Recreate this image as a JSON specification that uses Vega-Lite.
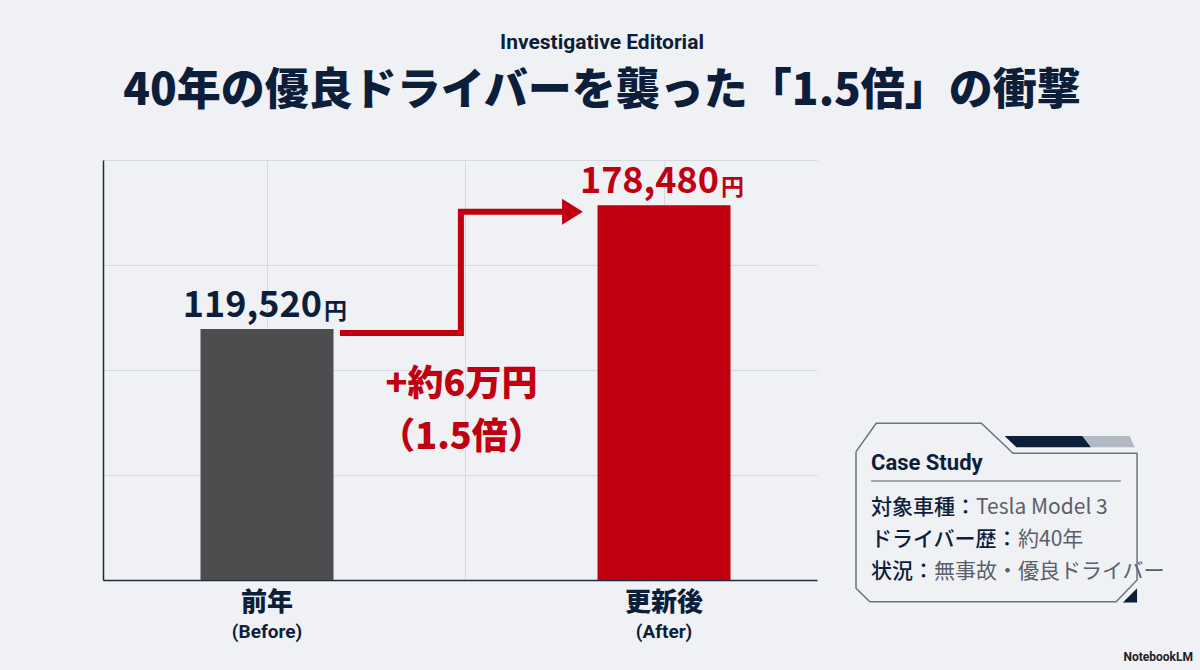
{
  "$schema": "https://vega.github.io/schema/vega-lite/v6.json",
  "description": "Insurance premium before and after renewal for a 40-year good driver",
  "background": "#eff1f5",
  "padding": {"left": 103, "top": 32, "right": 10, "bottom": 5},
  "title": {
    "text": "Investigative Editorial",
    "subtitle": "40年の優良ドライバーを襲った「1.5倍」の衝撃",
    "anchor": "middle",
    "dx": -46,
    "offset": 46,
    "font": "Roboto",
    "fontSize": 21,
    "fontWeight": "bold",
    "color": "#0d1e3a",
    "subtitleFont": "Noto Sans CJK JP",
    "subtitleFontSize": 44,
    "subtitleFontWeight": 900,
    "subtitleColor": "#0d1e3a",
    "subtitlePadding": 17
  },
  "spacing": 36,
  "hconcat": [
    {
      "width": 714,
      "height": 420,
      "layer": [
        {
          "data": {
            "values": [
              {"period": "前年", "en": "(Before)", "premium": 119520},
              {"period": "更新後", "en": "(After)", "premium": 178480}
            ]
          },
          "encoding": {
            "x": {
              "field": "period",
              "type": "nominal",
              "scale": {"domain": ["前年", "更新後"], "paddingInner": 0.665, "paddingOuter": 0.2317, "align": 0.53},
              "axis": null
            }
          },
          "layer": [
            {
              "mark": {"type": "bar"},
              "encoding": {
                "y": {
                  "field": "premium",
                  "type": "quantitative",
                  "title": null,
                  "scale": {"domain": [0, 200000], "nice": false},
                  "axis": {
                    "grid": true,
                    "values": [0, 50000, 100000, 150000, 200000],
                    "labels": false,
                    "ticks": false,
                    "title": null,
                    "domainColor": "#1d2a3f",
                    "domainWidth": 1.5,
                    "gridColor": "#d6d9df",
                    "gridWidth": 1
                  }
                },
                "color": {
                  "field": "period",
                  "type": "nominal",
                  "scale": {"domain": ["前年", "更新後"], "range": ["#4d4d4f", "#c00010"]},
                  "legend": null
                }
              }
            },
            {
              "mark": {"type": "text", "align": "right", "baseline": "alphabetic", "dx": 55, "dy": -12, "font": "Noto Sans CJK JP", "fontSize": 36, "fontWeight": "bold"},
              "encoding": {
                "y": {"field": "premium", "type": "quantitative", "title": null},
                "text": {"field": "premium", "type": "quantitative", "format": ","},
                "color": {"condition": {"test": "datum.period === '前年'", "value": "#0d1e3a"}, "value": "#c00010"}
              }
            },
            {
              "mark": {"type": "text", "align": "left", "baseline": "alphabetic", "dx": 57, "dy": -10, "font": "Noto Sans CJK JP", "fontSize": 23, "fontWeight": "bold", "text": "円"},
              "encoding": {
                "y": {"field": "premium", "type": "quantitative", "title": null},
                "color": {"condition": {"test": "datum.period === '前年'", "value": "#0d1e3a"}, "value": "#c00010"}
              }
            },
            {
              "mark": {"type": "text", "baseline": "middle", "dy": 23, "font": "Noto Sans CJK JP", "fontSize": 26, "fontWeight": 900, "color": "#0d1e3a"},
              "encoding": {
                "y": {"datum": 0, "type": "quantitative"},
                "text": {"field": "period"}
              }
            },
            {
              "mark": {"type": "text", "baseline": "middle", "dy": 52, "font": "Roboto", "fontSize": 19, "fontWeight": "bold", "color": "#0d1e3a"},
              "encoding": {
                "y": {"datum": 0, "type": "quantitative"},
                "text": {"field": "en"}
              }
            }
          ]
        },
        {
          "layer": [
            {
              "data": {
                "values": [
                  {"step": 1, "x": 0.368, "y": 117600},
                  {"step": 2, "x": 0.977, "y": 117600},
                  {"step": 3, "x": 0.977, "y": 175380},
                  {"step": 4, "x": 1.5, "y": 175380}
                ]
              },
              "mark": {"type": "line", "strokeWidth": 6, "color": "#c00010", "strokeJoin": "miter", "strokeCap": "butt"},
              "encoding": {
                "x": {
                  "field": "x",
                  "type": "quantitative",
                  "scale": {"domain": [-0.826, 2.771], "nice": false, "zero": false},
                  "axis": {
                    "grid": true,
                    "values": [0, 1, 2],
                    "labels": false,
                    "ticks": false,
                    "title": null,
                    "orient": "bottom",
                    "domainColor": "#1d2a3f",
                    "domainWidth": 1.5,
                    "gridColor": "#d6d9df",
                    "gridWidth": 1
                  }
                },
                "y": {"field": "y", "type": "quantitative", "title": null},
                "order": {"field": "step"}
              }
            },
            {
              "data": {"values": [{}]},
              "mark": {"type": "point", "shape": "M-0.8,-1L0.8,0L-0.8,1Z", "size": 676, "filled": true, "opacity": 1, "color": "#c00010"},
              "encoding": {
                "x": {"datum": 1.539, "type": "quantitative"},
                "y": {"datum": 175380, "type": "quantitative"}
              }
            },
            {
              "data": {"values": [{}]},
              "mark": {"type": "text", "text": "+約6万円", "baseline": "middle", "font": "Noto Sans CJK JP", "fontSize": 36, "fontWeight": 900, "color": "#c00010"},
              "encoding": {
                "x": {"datum": 0.98, "type": "quantitative"},
                "y": {"datum": 92857, "type": "quantitative"}
              }
            },
            {
              "data": {"values": [{}]},
              "mark": {"type": "text", "text": "（1.5倍）", "baseline": "middle", "font": "Noto Sans CJK JP", "fontSize": 36, "fontWeight": 900, "color": "#c00010"},
              "encoding": {
                "x": {"datum": 0.98, "type": "quantitative"},
                "y": {"datum": 67619, "type": "quantitative"}
              }
            }
          ]
        }
      ],
      "resolve": {"scale": {"x": "independent"}, "axis": {"x": "independent"}}
    },
    {
      "width": 337,
      "height": 505,
      "encoding": {
        "x": {"type": "quantitative", "scale": {"domain": [0, 100], "nice": false, "zero": false}, "axis": null},
        "y": {"type": "quantitative", "scale": {"domain": [-9.78, 6], "nice": false, "zero": false, "reverse": true}, "axis": null}
      },
      "layer": [
        {
          "data": {
            "values": [
              {"i": 1, "px": 0, "py": -0.666},
              {"i": 2, "px": 6.0, "py": -1.553},
              {"i": 3, "px": 37.2, "py": -1.553},
              {"i": 4, "px": 46.6, "py": -0.616},
              {"i": 5, "px": 83.4, "py": -0.616},
              {"i": 6, "px": 83.4, "py": 3.344},
              {"i": 7, "px": 77.2, "py": 4.022},
              {"i": 8, "px": 4.1, "py": 4.022},
              {"i": 9, "px": 0, "py": 3.603},
              {"i": 10, "px": 0, "py": -0.666}
            ]
          },
          "mark": {"type": "line", "strokeWidth": 1.5, "color": "#6b7383", "strokeJoin": "miter"},
          "encoding": {
            "x": {"field": "px", "type": "quantitative"},
            "y": {"field": "py", "type": "quantitative"},
            "order": {"field": "i"}
          }
        },
        {
          "data": {
            "values": [
              {"py": -1.156, "x1": 44.1, "x2": 67.2},
              {"py": -0.803, "x1": 47.6, "x2": 69.8}
            ]
          },
          "mark": {"type": "area", "orient": "horizontal", "color": "#0d1e3a", "opacity": 1},
          "encoding": {
            "y": {"field": "py", "type": "quantitative"},
            "x": {"field": "x1", "type": "quantitative"},
            "x2": {"field": "x2"}
          }
        },
        {
          "data": {
            "values": [
              {"py": -1.156, "x1": 67.2, "x2": 81.2},
              {"py": -0.803, "x1": 69.8, "x2": 82.7}
            ]
          },
          "mark": {"type": "area", "orient": "horizontal", "color": "#b3b9c3", "opacity": 1},
          "encoding": {
            "y": {"field": "py", "type": "quantitative"},
            "x": {"field": "x1", "type": "quantitative"},
            "x2": {"field": "x2"}
          }
        },
        {
          "data": {
            "values": [
              {"py": 3.603, "x1": 83.4, "x2": 83.4},
              {"py": 4.05, "x1": 79.2, "x2": 83.4}
            ]
          },
          "mark": {"type": "area", "orient": "horizontal", "color": "#0d1e3a", "opacity": 1},
          "encoding": {
            "y": {"field": "py", "type": "quantitative"},
            "x": {"field": "x1", "type": "quantitative"},
            "x2": {"field": "x2"}
          }
        },
        {
          "data": {"values": [{}]},
          "mark": {"type": "text", "text": "Case Study", "align": "left", "baseline": "middle", "font": "Roboto", "fontSize": 22, "fontWeight": "bold", "color": "#0d1e3a"},
          "encoding": {
            "x": {"datum": 4.45, "type": "quantitative"},
            "y": {"datum": -0.3125, "type": "quantitative"}
          }
        },
        {
          "data": {"values": [{}]},
          "mark": {"type": "rule", "strokeWidth": 1.5, "color": "#8a909c"},
          "encoding": {
            "x": {"datum": 4.45, "type": "quantitative"},
            "x2": {"datum": 78.6},
            "y": {"datum": 0.25, "type": "quantitative"}
          }
        },
        {
          "data": {
            "values": [
              {"row": 1, "label": "対象車種：", "value": "Tesla Model 3"},
              {"row": 2, "label": "ドライバー歴：", "value": "約40年"},
              {"row": 3, "label": "状況：", "value": "無事故・優良ドライバー"}
            ]
          },
          "layer": [
            {
              "mark": {"type": "text", "align": "left", "baseline": "middle", "dy": 3, "font": "Noto Sans CJK JP", "fontSize": 21, "fontWeight": 500, "color": "#0d1e3a"},
              "encoding": {
                "x": {"datum": 4.45, "type": "quantitative"},
                "y": {"field": "row", "type": "quantitative"},
                "text": {"field": "label"}
              }
            },
            {
              "mark": {"type": "text", "align": "left", "baseline": "middle", "dy": 3, "dx": {"expr": "length(datum.label) * 21"}, "font": "Noto Sans CJK JP", "fontSize": 21, "fontWeight": 400, "color": "#5a606b"},
              "encoding": {
                "x": {"datum": 4.45, "type": "quantitative"},
                "y": {"field": "row", "type": "quantitative"},
                "text": {"field": "value"}
              }
            }
          ]
        },
        {
          "data": {"values": [{}]},
          "mark": {"type": "text", "text": "NotebookLM", "align": "right", "baseline": "middle", "font": "Roboto", "fontSize": 12, "fontWeight": "bold", "color": "#222222"},
          "encoding": {
            "x": {"datum": 100, "type": "quantitative"},
            "y": {"datum": 5.75, "type": "quantitative"}
          }
        }
      ]
    }
  ],
  "config": {"view": {"stroke": null}}
}
